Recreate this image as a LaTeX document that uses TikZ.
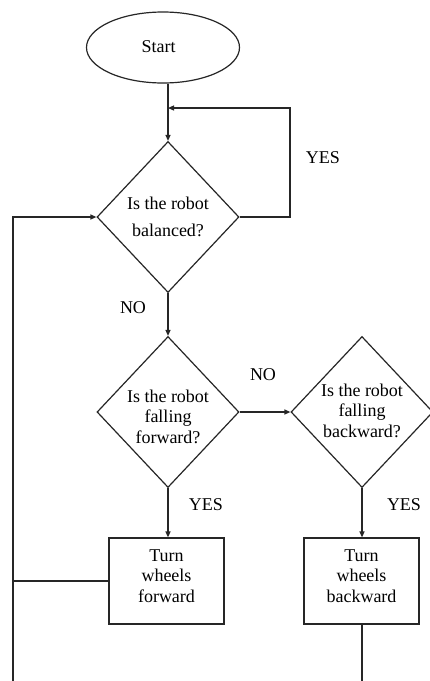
\documentclass[tikz,border=0pt]{standalone}
\usepackage{fontspec}
\newfontfamily\tmsfont{Liberation Serif}
\newcommand\tfx{\tmsfont\fontsize{18}{20.5}\selectfont}
\newcommand\tfw{\tmsfont\fontsize{18}{27}\selectfont}
\usetikzlibrary{shapes.geometric,arrows.meta}
\begin{document}
\begin{tikzpicture}[x=1pt,y=-1pt,
  line/.style={draw=black!85,line width=1.2pt},
  arr/.style={line,-{Triangle[length=6pt,width=5pt]}},
  dia/.style={diamond,line,inner sep=0pt,minimum width=142pt,minimum height=151pt},
  boxnode/.style={rectangle,line,inner sep=0pt,minimum width=115pt,minimum height=86pt},
  txt/.style={font=\tfx,align=center,inner sep=0pt},
  lbl/.style={font=\tfx,inner sep=0pt}]
\useasboundingbox (0,0) rectangle (430,681);
\fill[white] (0,0) rectangle (430,681);
% shapes
\node[ellipse,line,minimum width=153pt,minimum height=71pt,inner sep=0pt] (start) at (163,47.5) {};
\node[txt] (startt) at (158.5,47) {\tfx Start};
\node[dia] (d1) at (168,217) {};
\node[txt,font=\tfw] (d1t) at (168,216.5) {\tfw Is the robot\\\tfw balanced?};
\node[dia] (d2) at (168,412) {};
\node[txt] (d2t) at (168,416.5) {\tfx Is the robot\\\tfx falling\\\tfx forward?};
\node[dia] (d3) at (362,412) {};
\node[txt] (d3t) at (362,410.5) {\tfx Is the robot\\\tfx falling\\\tfx backward?};
\node[boxnode] (b1) at (166.5,581) {};
\node[txt] (b1t) at (166.5,576) {\tfx Turn\\\tfx wheels\\\tfx forward};
\node[boxnode] (b2) at (361.5,581) {};
\node[txt] (b2t) at (361.5,576) {\tfx Turn\\\tfx wheels\\\tfx backward};
% helper coordinates
\coordinate (join) at (168,108);
\coordinate (yt) at (290,108);
\coordinate (lb) at (13,681);
\coordinate (rb) at (362,681);
% connectors
\draw[arr] (d1.north |- start.south) -- (d1.north);
\draw[arr] (d1.east) -| (yt) -- (join);
\draw[arr] (lb) |- (d1.west);
\draw[line] (b1.west) -- (b1.west -| lb);
\draw[arr] (d1.south) -- (d2.north);
\draw[arr] (d2.east) -- (d3.west);
\draw[arr] (d2.south) -- (b1.north -| d2.south);
\draw[arr] (d3.south) -- (b2.north -| d3.south);
\draw[line] (b2.south -| d3.south) -- (rb);
% labels
\node[lbl] (yes1) at (323,158) {\tfx YES};
\node[lbl] (no1) at (133,308) {\tfx NO};
\node[lbl] (no2) at (263,375) {\tfx NO};
\node[lbl] (yes2) at (206,505) {\tfx YES};
\node[lbl] (yes3) at (404,505) {\tfx YES};
\end{tikzpicture}
\end{document}
